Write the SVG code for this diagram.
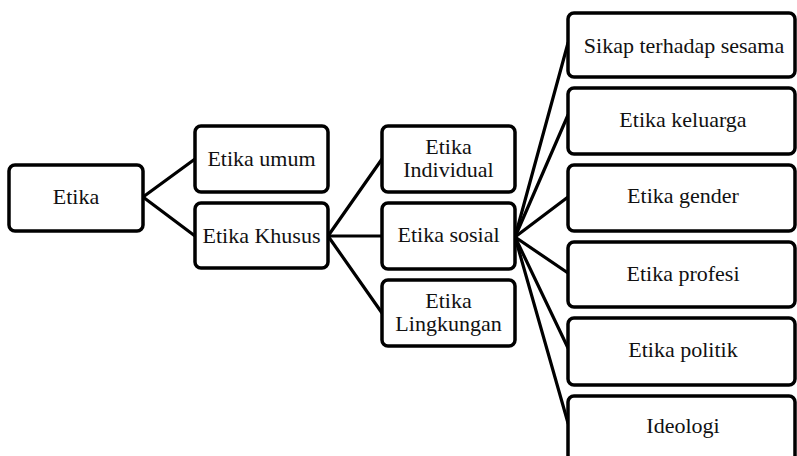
<svg xmlns="http://www.w3.org/2000/svg" width="797" height="456" viewBox="0 0 797 456">
  <style>
    .box { fill: #ffffff; stroke: #000000; stroke-width: 3.5; }
    .lbl { font-family: "Liberation Serif", "Times New Roman", serif; font-size: 22px; fill: #111111; text-anchor: middle; }
    .link { stroke: #000000; stroke-width: 3.2; fill: none; stroke-linecap: round; }
  </style>
  <rect width="797" height="456" fill="#ffffff"/>

  <!-- connectors -->
  <g id="connectors">
    <line class="link" x1="143" y1="197" x2="195" y2="159"/>
    <line class="link" x1="143" y1="197" x2="195" y2="236"/>
    <line class="link" x1="328" y1="236" x2="382" y2="159"/>
    <line class="link" x1="328" y1="236" x2="382" y2="236"/>
    <line class="link" x1="328" y1="236" x2="382" y2="313"/>
    <line class="link" x1="515" y1="237" x2="568" y2="43"/>
    <line class="link" x1="515" y1="237" x2="568" y2="115"/>
    <line class="link" x1="515" y1="237" x2="568" y2="197"/>
    <line class="link" x1="515" y1="237" x2="568" y2="273"/>
    <line class="link" x1="515" y1="237" x2="568" y2="348"/>
    <line class="link" x1="515" y1="237" x2="568" y2="423"/>
  </g>

  <g id="etika">
    <rect class="box" x="9" y="165" width="134" height="66" rx="6"/>
    <text class="lbl" x="76" y="204">Etika</text>
  </g>

  <g id="etika-umum">
    <rect class="box" x="195" y="126" width="133" height="66" rx="6"/>
    <text class="lbl" x="261.5" y="166">Etika umum</text>
  </g>

  <g id="etika-khusus">
    <rect class="box" x="195" y="203" width="133" height="65" rx="6"/>
    <text class="lbl" x="261.5" y="243">Etika Khusus</text>
  </g>

  <g id="etika-individual">
    <rect class="box" x="382" y="126" width="133" height="66" rx="6"/>
    <text class="lbl" x="448.5" y="154">Etika</text>
    <text class="lbl" x="448.5" y="177">Individual</text>
  </g>

  <g id="etika-sosial">
    <rect class="box" x="382" y="203" width="133" height="66" rx="6"/>
    <text class="lbl" x="448.5" y="242">Etika sosial</text>
  </g>

  <g id="etika-lingkungan">
    <rect class="box" x="382" y="280" width="133" height="66" rx="6"/>
    <text class="lbl" x="448.5" y="308">Etika</text>
    <text class="lbl" x="448.5" y="331">Lingkungan</text>
  </g>

  <g id="sikap-terhadap-sesama">
    <rect class="box" x="568" y="13" width="227" height="64" rx="6"/>
    <text class="lbl" x="684" y="53">Sikap terhadap sesama</text>
  </g>

  <g id="etika-keluarga">
    <rect class="box" x="568" y="88" width="227" height="66" rx="6"/>
    <text class="lbl" x="683" y="127">Etika keluarga</text>
  </g>

  <g id="etika-gender">
    <rect class="box" x="568" y="165" width="227" height="66" rx="6"/>
    <text class="lbl" x="683" y="203">Etika gender</text>
  </g>

  <g id="etika-profesi">
    <rect class="box" x="568" y="242" width="227" height="65" rx="6"/>
    <text class="lbl" x="683" y="281">Etika profesi</text>
  </g>

  <g id="etika-politik">
    <rect class="box" x="568" y="318" width="227" height="67" rx="6"/>
    <text class="lbl" x="683" y="357">Etika politik</text>
  </g>

  <g id="ideologi">
    <rect class="box" x="568" y="396" width="227" height="80" rx="6"/>
    <text class="lbl" x="683" y="433">Ideologi</text>
  </g>
</svg>
